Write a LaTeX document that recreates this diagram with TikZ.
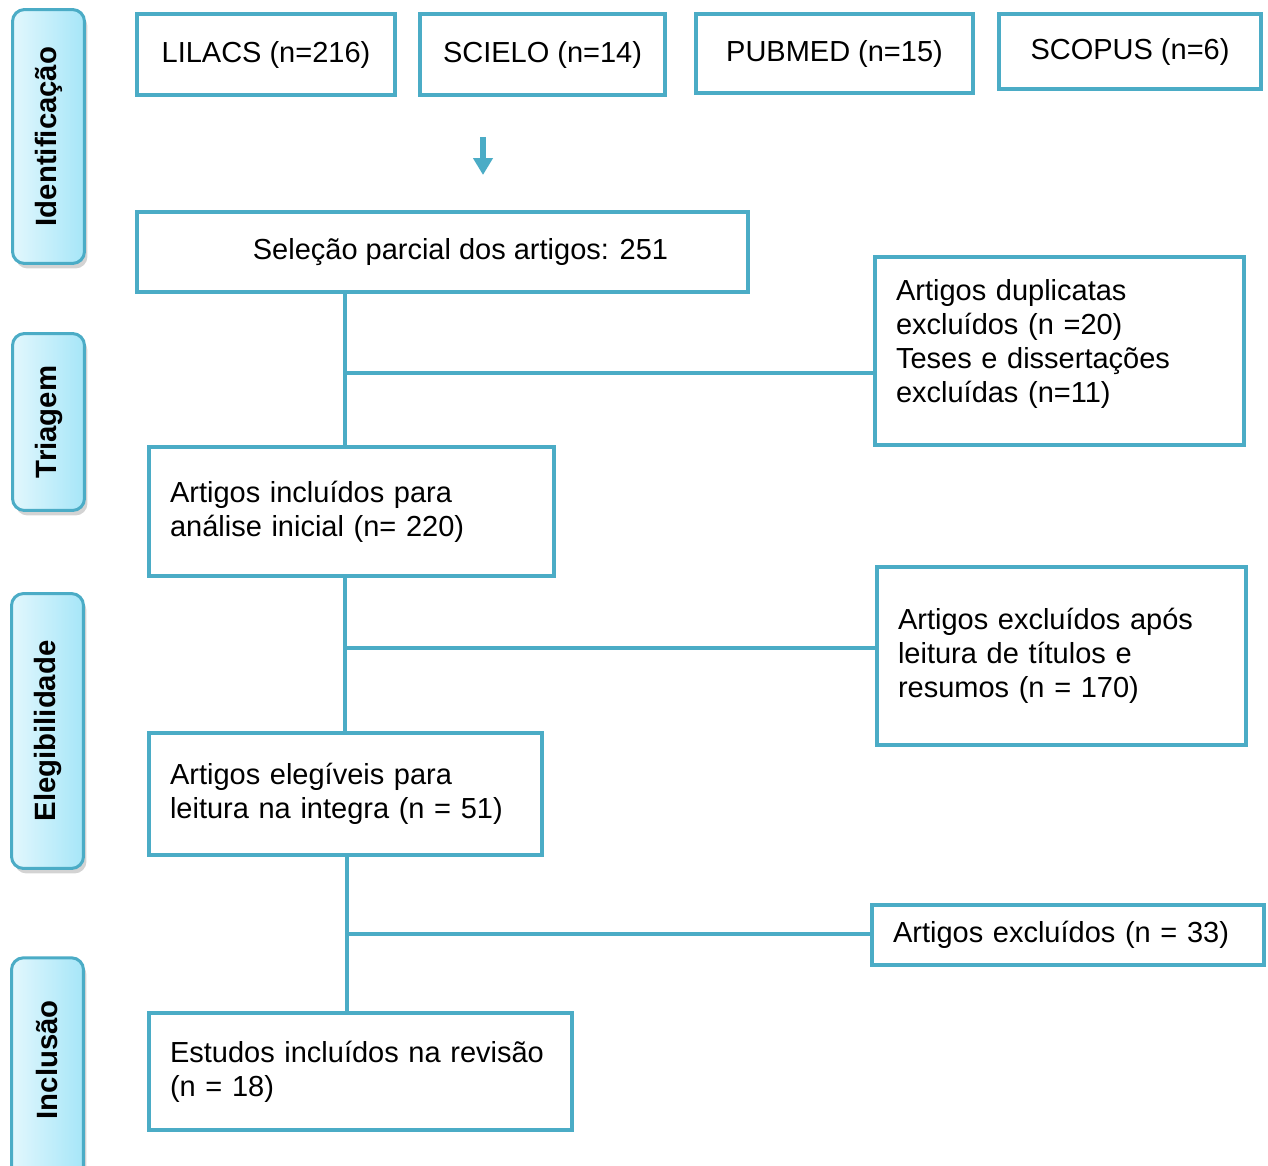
\documentclass[tikz,border=0pt]{standalone}
\usepackage{fontspec}
\setmainfont{Liberation Sans}
\usetikzlibrary{arrows.meta,shadows}
\definecolor{linha}{HTML}{4BACC6}
\definecolor{faseclara}{HTML}{E2F7FD}
\definecolor{faseescura}{HTML}{A6E6F8}
\tikzset{
  caixa/.style={draw=linha,line width=0.08cm,inner xsep=0.42cm,inner ysep=0pt,
    font=\fontsize{16.5}{19.4}\selectfont},
  fonte/.style={caixa,align=center},
  texto/.style={caixa,align=left},
  fase/.style={draw=linha,line width=0.06cm,rounded corners=0.24cm,rotate=90,
    left color=faseclara,right color=faseescura,minimum height=1.44cm,
    drop shadow={opacity=0.35,shadow xshift=0.06cm,shadow yshift=-0.1cm},
    font=\fontsize{16.7}{19.4}\selectfont\bfseries},
  conector/.style={draw=linha,line width=0.08cm},
  seta/.style={draw=linha,line width=0.12cm,-{Triangle[width=0.38cm,length=0.34cm]}}
}
\begin{document}
\begin{tikzpicture}[x=0.02cm,y=-0.02cm]
  \useasboundingbox (0,0) rectangle (1268,1166);
  % fases
  \node[fase,minimum width=5.08cm] (ident) at (48.5,136.5) {Identificação};
  \node[fase,minimum width=3.54cm] (triag) at (48.5,422) {Triagem};
  \node[fase,minimum width=5.5cm] (eleg) at (47.5,731) {Elegibilidade};
  \node[fase,minimum width=4.65cm,text width=2.95cm,align=right,inner xsep=0.85cm] (incl) at (47.5,1074) {Inclusão};
  % bases
  \node[fonte,minimum width=5.16cm,minimum height=1.62cm] (lilacs) at (266,54.5) {LILACS (n=216)};
  \node[fonte,minimum width=4.9cm,minimum height=1.62cm] (scielo) at (542.5,54.5) {SCIELO (n=14)};
  \node[fonte,minimum width=5.54cm,minimum height=1.58cm] (pubmed) at (834.5,53.5) {PUBMED (n=15)};
  \node[fonte,minimum width=5.24cm,minimum height=1.5cm] (scopus) at (1130,51.5) {SCOPUS (n=6)};
  \coordinate (s1) at (483,137);
  \coordinate (s2) at (483,175);
  \draw[seta] (s1) -- (s2);
  % fluxo
  \node[fonte,minimum width=12.22cm,minimum height=1.6cm] (selecao) at (442.5,252) {\hspace*{0.72cm}Seleção parcial dos artigos: 251};
  \node[texto,text width=6.54cm,minimum height=3.76cm] (duplic) at (1059.5,351) {Artigos duplicatas\\excluídos (n =20)\\Teses e dissertações\\excluídas (n=11)\\[-0.28cm]\mbox{}};
  \node[texto,text width=7.26cm,minimum height=2.58cm] (inicial) at (351.5,511.5) {Artigos incluídos para\\análise inicial (n= 220)};
  \node[texto,text width=6.54cm,minimum height=3.56cm] (resumos) at (1061.5,656) {Artigos excluídos após\\leitura de títulos e\\resumos (n = 170)};
  \node[texto,text width=7.02cm,minimum height=2.44cm] (elegiv) at (345.5,794) {Artigos elegíveis para\\leitura na integra (n = 51)};
  \node[texto,text width=7.0cm,minimum height=1.2cm] (exclu) at (1068,935) {Artigos excluídos (n = 33)};
  \node[texto,text width=7.62cm,minimum height=2.34cm] (estudos) at (360.5,1071.5) {Estudos incluídos na revisão\\(n = 18)};
  % ligacoes
  \coordinate (j1) at (345,373);
  \coordinate (j2) at (345,648);
  \coordinate (j3) at (347,934);
  \draw[conector] (selecao.south -| j1) -- (inicial.north -| j1);
  \draw[conector] (j1) -- (j1 -| duplic.west);
  \draw[conector] (inicial.south -| j2) -- (elegiv.north -| j2);
  \draw[conector] (j2) -- (j2 -| resumos.west);
  \draw[conector] (elegiv.south -| j3) -- (estudos.north -| j3);
  \draw[conector] (j3) -- (j3 -| exclu.west);
\end{tikzpicture}
\end{document}
